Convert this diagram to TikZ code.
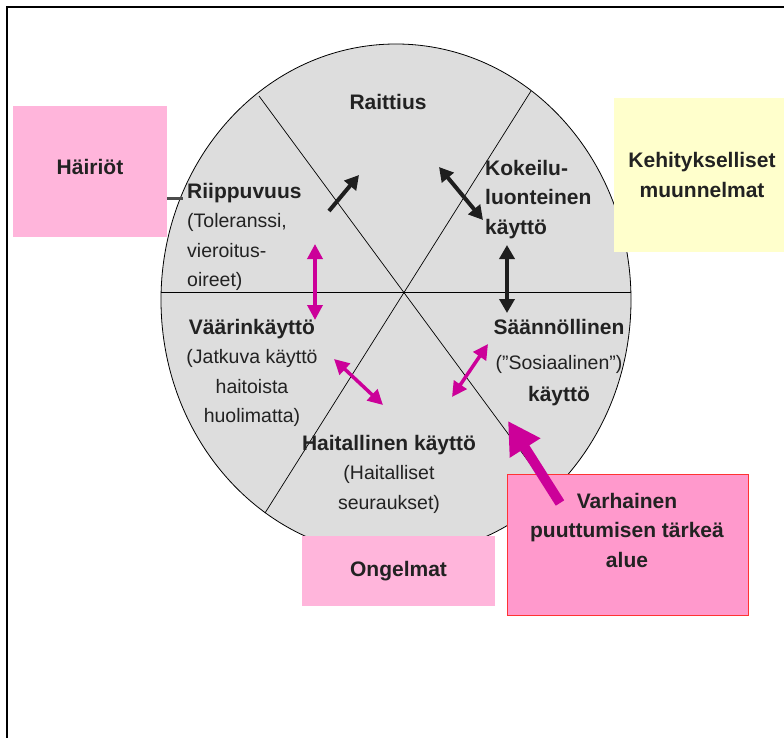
\documentclass[tikz,border=0pt]{standalone}
\usepackage{fontspec}
\setmainfont{Liberation Sans}
\usetikzlibrary{arrows.meta}
\definecolor{wheelgray}{HTML}{DDDDDD}
\definecolor{softpink}{HTML}{FFB5DB}
\definecolor{paleyellow}{HTML}{FFFFCC}
\definecolor{hotpink}{HTML}{FF99CC}
\definecolor{edgered}{HTML}{FF3333}
\definecolor{arrowpink}{HTML}{CC0099}
\definecolor{arrowdark}{HTML}{1E1E1E}
\definecolor{inkgray}{HTML}{222222}
\newcommand{\hd}[1]{{\fontsize{21}{29.5}\selectfont\bfseries #1}}
\tikzset{wheel/.style={draw=black, line width=0.8pt, fill=wheelgray},
 spoke/.style={draw=black, line width=0.7pt},
 txt/.style={font=\fontsize{19.5}{29.5}\selectfont, text=inkgray, inner sep=0pt},
 box/.style={font=\fontsize{21}{29.5}\selectfont\bfseries, text=inkgray,
   align=center, inner sep=0pt, draw=none},
 conn/.style={draw=black!70, line width=3pt},
 darkarr/.style={draw=arrowdark, line width=4pt,
   -{Triangle[length=14pt,width=15pt]}},
 darkboth/.style={darkarr, {Triangle[length=14pt,width=15pt]}-{Triangle[length=14pt,width=15pt]}},
 pinkboth/.style={draw=arrowpink, line width=3.5pt,
   {Triangle[length=15pt,width=15pt]}-{Triangle[length=15pt,width=15pt]}},
 bigarr/.style={draw=arrowpink, line width=10pt,
   -{Triangle[length=32pt,width=34pt]}},
 }

\begin{document}
\begin{tikzpicture}[x=1pt,y=-1pt]
    \useasboundingbox (0,0) rectangle (784,738);
    % frame
    \draw[line width=2pt] (784,7) -- (7,7) -- (7,738);
    % the wheel
    \draw[wheel] (396,300) ellipse [x radius=235pt, y radius=256pt];
    \coordinate (ul) at (259,96);
    \coordinate (lr) at (551,492);
    \coordinate (ur) at (531,91);
    \coordinate (ll) at (265,513);
    \coordinate (wl) at (161,292);
    \coordinate (wr) at (631,292);
    \draw[spoke] (ul) -- (lr);
    \draw[spoke] (ur) -- (ll);
    \draw[spoke] (wl) -- (wr);
    % sector texts
    \node[txt] (raittius) at (388,102) {\hd{Raittius}};
    \node[txt, anchor=north west, align=left] (riippuvuus) at (187,183)
        {\hd{Riippuvuus}\\ (Toleranssi,\\vieroitus-\\oireet)};
    \node[txt, anchor=north, align=center] (vaarinkaytto) at (252,319)
        {\hd{Väärinkäyttö}\\(Jatkuva käyttö\\haitoista\\huolimatta)};
    \node[txt, anchor=north, align=center] (haitallinen) at (389,435)
        {\hd{Haitallinen käyttö}\\(Haitalliset\\seuraukset)};
    \node[txt, anchor=north west, align=left] (kokeilu) at (485,160)
        {\hd{Kokeilu-}\\\hd{luonteinen}\\\hd{käyttö}};
    \node[txt, anchor=north, align=center] (saannollinen) at (559,319)
        {\hd{Säännöllinen}\\[6pt](”Sosiaalinen”)\\[2pt]\hd{käyttö}};
    % boxes round the wheel
    \node[box, fill=softpink, minimum width=154pt, minimum height=131pt,
        text depth=10pt] (hairiot) at (90,171.5) {Häiriöt};
    \node[box, fill=paleyellow, minimum width=176pt, minimum height=154pt]
        (kehitys) at (702,175) {Kehitykselliset\\muunnelmat};
    \node[box, fill=softpink, minimum width=193pt, minimum height=70pt]
        (ongelmat) at (398.5,571) {Ongelmat};
    \node[box, fill=hotpink, draw=edgered, line width=1pt,
        minimum width=241pt, minimum height=141pt] (varhbox) at (627.5,544.5) {};
    \node[box] (varhainen) at (627,530) {Varhainen\\puuttumisen tärkeä\\alue};
    \coordinate (hjoin) at (183,199);
    \draw[conn] (hairiot.east |- hjoin) -- (hjoin);
    % arrows
    \coordinate (a1) at (329,211);
    \coordinate (a2) at (359,175);
    \coordinate (b1) at (439,167);
    \coordinate (b2) at (483,220);
    \coordinate (c1) at (507,245);
    \coordinate (c2) at (507,313);
    \coordinate (d1) at (315,244);
    \coordinate (d2) at (315,320);
    \coordinate (e1) at (334,359);
    \coordinate (e2) at (383,405);
    \coordinate (f1) at (452,397);
    \coordinate (f2) at (488,344);
    \coordinate (g1) at (560,503);
    \coordinate (g2) at (508,421);
    \draw[darkarr] (a1) -- (a2);
    \draw[darkboth] (b1) -- (b2);
    \draw[darkboth] (c1) -- (c2);
    \draw[pinkboth] (d1) -- (d2);
    \draw[pinkboth] (e1) -- (e2);
    \draw[pinkboth] (f1) -- (f2);
    \draw[bigarr] (g1) -- (g2);
\end{tikzpicture}
\end{document}
